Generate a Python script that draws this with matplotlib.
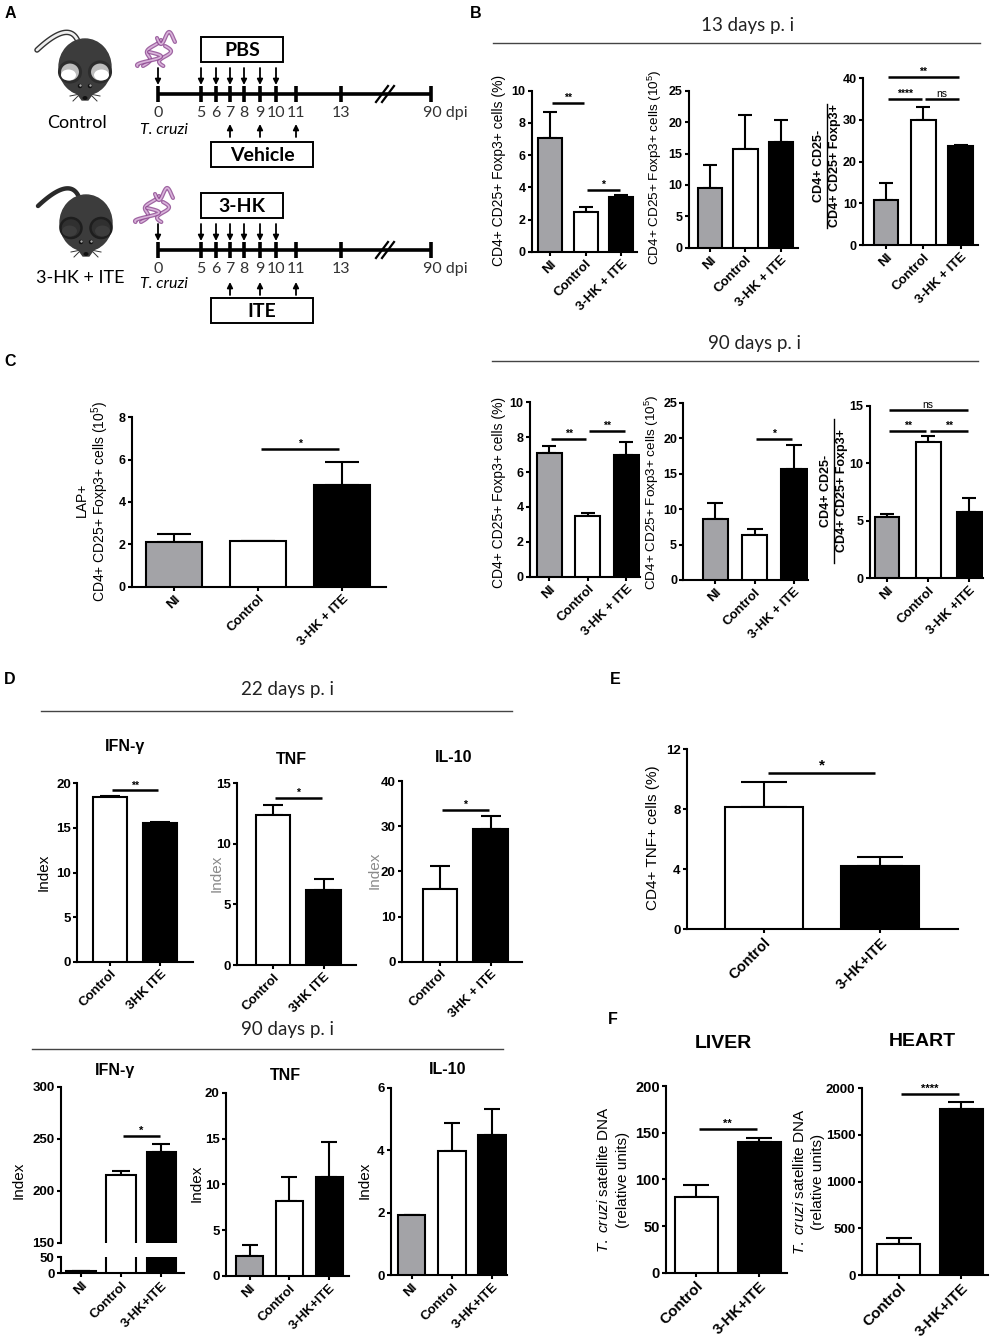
import numpy as np
import matplotlib
matplotlib.use('Agg')
import matplotlib.pyplot as plt
from matplotlib.patches import Ellipse, Rectangle, Polygon
from matplotlib.lines import Line2D

plt.rcParams['font.family'] = ['Liberation Sans', 'DejaVu Sans']
plt.rcParams['mathtext.fontset'] = 'custom'
plt.rcParams['mathtext.rm'] = 'Liberation Sans'
plt.rcParams['mathtext.it'] = 'Liberation Sans:italic'
plt.rcParams['mathtext.bf'] = 'Liberation Sans:bold'

# ---------------- data ----------------
grp_b = ['NI', 'Control', '3-HK + ITE']
grp_b90r = ['NI', 'Control', '3-HK +ITE']
grp_d22 = ['Control', '3HK ITE']
grp_d22b = ['Control', '3HK + ITE']
grp_d90 = ['NI', 'Control', '3-HK+ITE']
grp_ef = ['Control', '3-HK+ITE']

b13_pct = [7.05, 2.45, 3.4]
b13_pct_err = [1.65, 0.3, 0.1]
b13_pct_sig = [(0, 1, 9.25, '**'), (1, 2, 3.83, '*')]
b13_abs = [9.5, 15.7, 16.9]
b13_abs_err = [3.7, 5.4, 3.5]
b13_ratio = [10.8, 30.1, 23.8]
b13_ratio_err = [4.0, 3.1, 0.2]
b13_ratio_sig = [(0, 2, 40.4, '**'), (0, 1, 35.1, '****'), (1, 2, 35.1, 'ns')]

b90_pct = [7.1, 3.5, 6.95]
b90_pct_err = [0.4, 0.17, 0.78]
b90_pct_sig = [(0, 1, 7.88, '**'), (1, 2, 8.36, '**')]
b90_abs = [8.55, 6.35, 15.6]
b90_abs_err = [2.35, 0.8, 3.5]
b90_abs_sig = [(1, 2, 19.9, '*')]
b90_ratio = [5.37, 11.85, 5.8]
b90_ratio_err = [0.2, 0.58, 1.22]
b90_ratio_sig = [(0, 2, 14.65, 'ns'), (0, 1, 12.82, '**'), (1, 2, 12.82, '**')]

c_lap = [2.09, 2.14, 4.79]
c_lap_err = [0.38, 0.0, 1.11]
c_lap_sig = [(1, 2, 6.52, '*')]

d22_ifn = [18.43, 15.6]
d22_ifn_err = [0.17, 0.05]
d22_ifn_sig = [(0, 1, 19.2, '**')]
d22_tnf = [12.39, 6.19]
d22_tnf_err = [0.81, 0.88]
d22_tnf_sig = [(0, 1, 13.76, '*')]
d22_il10 = [16.2, 29.4]
d22_il10_err = [4.9, 2.9]
d22_il10_sig = [(0, 1, 33.6, '*')]

d90_ifn = [6.0, 215.1, 237.5]
d90_ifn_err = [2.5, 3.8, 7.4]
d90_ifn_sig = [(1, 2, 252.6, '*')]
d90_tnf = [2.18, 8.18, 10.84]
d90_tnf_err = [1.2, 2.58, 3.81]
d90_il10 = [1.91, 3.98, 4.48]
d90_il10_err = [0.0, 0.9, 0.83]

e_tnf = [8.16, 4.21]
e_tnf_err = [1.62, 0.58]
e_tnf_sig = [(0, 1, 10.43, '*')]

f_liver = [81.4, 139.5]
f_liver_err = [12.2, 4.5]
f_liver_sig = [(0, 1, 153.9, '**')]
f_heart = [332, 1779]
f_heart_err = [68, 71]
f_heart_sig = [(0, 1, 1939, '****')]

# timeline (schematic panel A)
tl_days = ['0', '5', '6', '7', '8', '9', '10', '11', '13', '90']
inject_down = ['0', '5', '6', '7', '8', '9', '10']
inject_up = ['7', '9', '11']

# ---------------- figure ----------------
W, H = 995, 1339
fig = plt.figure(figsize=(W / 100, H / 100), dpi=100)

GREY = '#a3a3a7'
C3 = [GREY, 'white', 'black']
C2 = ['white', 'black']
LW = 1.5


def rect(L, top, R, bottom):
    return [L / W, 1 - bottom / H, (R - L) / W, (bottom - top) / H]


def ftext(x, y, s, **kw):
    fig.text(x / W, 1 - y / H, s, **kw)


def fline(x1, y1, x2, y2, **kw):
    fig.add_artist(Line2D([x1 / W, x2 / W], [1 - y1 / H, 1 - y2 / H],
                          transform=fig.transFigure, **kw))


def style(ax, yticks, yfs, bottom=True):
    for s in ['top', 'right']:
        ax.spines[s].set_visible(False)
    ax.spines['left'].set_linewidth(LW)
    ax.spines['bottom'].set_linewidth(LW)
    if not bottom:
        ax.spines['bottom'].set_visible(False)
    ax.tick_params(axis='both', direction='out', length=3, width=LW, pad=1.5)
    ax.set_yticks(yticks)
    ax.set_yticklabels([str(int(t)) for t in yticks], fontsize=yfs, fontweight='bold')
    ax.patch.set_alpha(0)


def draw_bars(ax, vals, errs, colors, bw, bar_px):
    x = np.arange(len(vals))
    ax.bar(x, vals, width=bw, color=colors, edgecolor='black', linewidth=LW, zorder=3)
    cap = 0.3 * bar_px * 0.72
    ax.errorbar(x, vals, yerr=[np.zeros(len(vals)), errs], fmt='none', ecolor='black',
                elinewidth=LW, capsize=cap, capthick=LW, zorder=2)


def add_sig(ax, sig, fs):
    for i, j, y, s in sig:
        ax.plot([i + 0.04, j - 0.04], [y, y], color='black', lw=1.8,
                solid_capstyle='butt', clip_on=False, zorder=5)
        fw = 'normal' if s == 'ns' else 'bold'
        ax.text((i + j) / 2, y, s, ha='center', va='bottom', fontsize=fs,
                fontweight=fw, clip_on=False)


def panel(L, R, top, bottom, ylim, yticks, vals, errs, colors, labels, xlim, bw,
          sig=(), yfs=9, xfs=9.5, sfs=7.5):
    ax = fig.add_axes(rect(L, top, R, bottom))
    bar_px = bw * (R - L) / (xlim[1] - xlim[0])
    draw_bars(ax, vals, errs, colors, bw, bar_px)
    ax.set_xlim(*xlim)
    ax.set_ylim(*ylim)
    style(ax, yticks, yfs)
    ax.set_xticks(np.arange(len(vals)))
    ax.set_xticklabels(labels, rotation=45, ha='right', rotation_mode='anchor',
                       fontsize=xfs, fontweight='bold')
    add_sig(ax, sig, sfs)
    return ax


def ylab(x, y, s, fs=10.5, color='black', fw='normal'):
    ftext(x, y, s, rotation=90, ha='center', va='center', fontsize=fs, color=color,
          fontweight=fw)


def ratio_label(xn, xl, xd, yc, half):
    ylab(xn, yc, 'CD4+ CD25-', fs=9, fw='bold')
    ylab(xd, yc, 'CD4+ CD25+ Foxp3+', fs=9, fw='bold')
    fline(xl, yc - half, xl, yc + half, color='black', lw=1.0)


# ---------------- panel A (schematic) ----------------
axA = fig.add_axes([0, 1 - 330 / H, 480 / W, 330 / H])
axA.set_xlim(0, 480)
axA.set_ylim(330, 0)
axA.axis('off')
tl_x = dict(zip(tl_days, [158, 201, 216, 230, 244, 260, 276, 296, 341, 431]))


def mouse(cx, cy, light):
    body = '#3c3c3c'
    t = np.linspace(0, 1, 40)
    p0 = np.array([cx - 6, cy - 26])
    p1 = np.array([cx - 14, cy - 52])
    p2 = np.array([cx - 48, cy - 20])
    pts = ((1 - t) ** 2)[:, None] * p0 + (2 * (1 - t) * t)[:, None] * p1 + (t ** 2)[:, None] * p2
    if light:
        axA.plot(pts[:, 0], pts[:, 1], color='#333333', lw=4.0, solid_capstyle='round')
        axA.plot(pts[:, 0], pts[:, 1], color='#eeeeee', lw=2.0, solid_capstyle='round')
    else:
        axA.plot(pts[:, 0], pts[:, 1], color='#2a2a2a', lw=3.2, solid_capstyle='round')
    axA.add_patch(Ellipse((cx, cy - 3), 52, 56, color=body, zorder=3))
    axA.add_patch(Polygon([[cx - 16, cy + 12], [cx + 16, cy + 12], [cx + 3, cy + 30], [cx - 3, cy + 30]],
                          closed=True, color=body, zorder=3))
    for dx in (-1, 1):
        ex = cx + dx * 15
        if light:
            axA.add_patch(Ellipse((ex, cy + 2), 21, 20, facecolor='#bdbdbd', edgecolor='#2c2c2c', lw=2.2, zorder=4))
            axA.add_patch(Ellipse((ex + dx * 1.5, cy + 5), 15, 11, facecolor='white', edgecolor='none', zorder=4))
        else:
            axA.add_patch(Ellipse((ex, cy + 2), 21, 20, facecolor='#303030', edgecolor='#1e1e1e', lw=1.8, zorder=4))
            axA.add_patch(Ellipse((ex + dx * 1.5, cy + 5), 15, 11, facecolor='#3d3d3d', edgecolor='none', zorder=4))
        axA.add_patch(Ellipse((cx + dx * 5, cy + 16), 3.0, 3.0, color='#111111', zorder=5))
        axA.add_patch(Ellipse((cx + dx * 5 + 0.5, cy + 15.5), 1.0, 1.0, color='#aaaaaa', zorder=6))
    axA.add_patch(Ellipse((cx, cy + 28), 3.5, 2.5, color='#111111', zorder=5))
    for s in (-1, 1):
        for dy, ex in ((-3, 13), (2, 15), (7, 12)):
            axA.plot([cx + s * 5, cx + s * ex], [cy + 24, cy + 24 + dy], color='#333333', lw=0.7, zorder=2)


def parasite(cx, cy):
    t = np.linspace(0, 1, 80)
    curves = [
        (cx - 20 + 14 * t + 4 * np.sin(t * 8), cy + 16 - 26 * t),
        (cx - 6 + 18 * t, cy - 12 + 6 * np.sin(t * 7)),
        (cx + 2 + 6 * np.sin(t * 6), cy - 4 + 20 * t),
        (cx - 14 + 12 * np.sin(t * 5), cy + 2 + 14 * t),
    ]
    for x, y in curves:
        axA.plot(x, y, color='#8e4a92', lw=3.0, solid_capstyle='round', alpha=0.85)
        axA.plot(x, y, color='#d9b3da', lw=1.2, solid_capstyle='round')


def timeline(yl, box_top, box_bot, top_txt, bot_txt, up_y, cruzi_y):
    axA.plot([tl_x['0'], tl_x['90']], [yl, yl], color='black', lw=2.6, solid_capstyle='butt')
    for d in tl_days:
        axA.plot([tl_x[d], tl_x[d]], [yl - 8, yl + 8], color='black', lw=2.6, solid_capstyle='butt')
        if d == '90':
            axA.text(tl_x[d] - 8, yl + 19, '90 dpi', family='Lato', fontsize=11.5, color='#333333',
                     ha='left', va='center')
        else:
            axA.text(tl_x[d], yl + 19, d, family='Lato', fontsize=11.5, color='#333333',
                     ha='center', va='center')
    for dx in (0, 6):
        axA.plot([376 + dx, 388 + dx], [yl + 8, yl - 8], color='black', lw=1.6)
    for d in inject_down:
        axA.annotate('', xy=(tl_x[d], yl - 9), xytext=(tl_x[d], yl - 26),
                     arrowprops=dict(arrowstyle='-|>', lw=1.3, color='black', mutation_scale=8,
                                     shrinkA=0, shrinkB=0))
    for d in inject_up:
        axA.annotate('', xy=(tl_x[d], up_y - 13), xytext=(tl_x[d], up_y),
                     arrowprops=dict(arrowstyle='-|>', lw=1.3, color='black', mutation_scale=8,
                                     shrinkA=0, shrinkB=0))
    axA.add_patch(Rectangle((201, box_top[0]), 82, box_top[1] - box_top[0], facecolor='white',
                            edgecolor='black', lw=1.4))
    axA.text(242, (box_top[0] + box_top[1]) / 2 + 1, top_txt, family='Lato', fontweight='bold',
             fontsize=14, ha='center', va='center')
    axA.add_patch(Rectangle((211, box_bot[0]), 102, box_bot[1] - box_bot[0], facecolor='white',
                            edgecolor='black', lw=1.4))
    axA.text(262, (box_bot[0] + box_bot[1]) / 2 + 1, bot_txt, family='Lato', fontweight='bold',
             fontsize=14, ha='center', va='center')
    axA.text(164, cruzi_y, 'T. cruzi', family='Lato', style='italic', fontsize=11.5,
             ha='center', va='center')


mouse(85, 70, True)
mouse(86, 226, False)
parasite(163, 50)
parasite(161, 206)
timeline(94, (37, 62), (142, 167), 'PBS', 'Vehicle', 137, 130)
timeline(250, (193, 218), (298, 323), '3-HK', 'ITE', 295, 284)
axA.text(77, 123, 'Control', family='Lato', fontsize=13, ha='center', va='center')
axA.text(80, 278, '3-HK + ITE', family='Lato', fontsize=13, ha='center', va='center')

# ---------------- panel labels ----------------
for lbl, x, y in [('A', 10, 14), ('B', 476, 14), ('C', 10, 361), ('D', 10, 680),
                  ('E', 615, 680), ('F', 613, 1020)]:
    ftext(x, y, lbl, fontsize=11.5, fontweight='bold', ha='center', va='center')

# section headers
for txt, x, y, x1, x2, yl in [('13 days p. i', 748, 25, 493, 980, 43),
                              ('90 days p. i', 755, 343, 492, 978, 361),
                              ('22 days p. i', 288, 690, 41, 512, 711),
                              ('90 days p. i', 288, 1030, 32, 503, 1049)]:
    ftext(x, y, txt, family='Lato', fontsize=13.5, ha='center', va='center', color='#222222')
    fline(x1, yl, x2, yl, color='#444444', lw=1.0)

# ---------------- panel B (13 d) ----------------
panel(532, 637, 90.7, 251.7, (0, 10), [0, 2, 4, 6, 8, 10], b13_pct, b13_pct_err, C3, grp_b,
      (-0.51, 2.45), 0.68, b13_pct_sig)
ylab(499, 170, 'CD4+ CD25+ Foxp3+ cells (%)', fs=10)
panel(689, 798, 90.7, 247.7, (0, 25), [0, 5, 10, 15, 20, 25], b13_abs, b13_abs_err, C3, grp_b,
      (-0.59, 2.48), 0.68)
ylab(655, 167, 'CD4+ CD25+ Foxp3+ cells (10$^{5}$)', fs=9.7)
panel(863, 978, 78.3, 245, (0, 40), [0, 10, 20, 30, 40], b13_ratio, b13_ratio_err, C3, grp_b,
      (-0.62, 2.47), 0.66, b13_ratio_sig)
ratio_label(819, 827, 835, 166, 62)

# ---------------- panel B (90 d) ----------------
panel(530, 640, 402.3, 576.7, (0, 10), [0, 2, 4, 6, 8, 10], b90_pct, b90_pct_err, C3, grp_b,
      (-0.506, 2.36), 0.65, b90_pct_sig)
ylab(499, 492, 'CD4+ CD25+ Foxp3+ cells (%)', fs=10)
panel(683.3, 808, 402.7, 580, (0, 25), [0, 5, 10, 15, 20, 25], b90_abs, b90_abs_err, C3, grp_b,
      (-0.82, 2.36), 0.65, b90_abs_sig)
ylab(652, 492, 'CD4+ CD25+ Foxp3+ cells (10$^{5}$)', fs=9.7)
panel(870, 983, 406, 578.3, (0, 15), [0, 5, 10, 15], b90_ratio, b90_ratio_err, C3, grp_b90r,
      (-0.41, 2.33), 0.6, b90_ratio_sig)
ratio_label(826, 834, 842, 491, 72)

# ---------------- panel C ----------------
panel(131.7, 386, 417.3, 586.7, (0, 8), [0, 2, 4, 6, 8], c_lap, c_lap_err, C3, grp_b,
      (-0.5, 2.52), 0.665, c_lap_sig)
ylab(81.7, 500, 'LAP+', fs=10)
ylab(100, 501, 'CD4+ CD25+ Foxp3+ cells (10$^{5}$)', fs=10)

# ---------------- panel D (22 d) ----------------
panel(77.3, 193, 783.3, 961.7, (0, 20), [0, 5, 10, 15, 20], d22_ifn, d22_ifn_err, C2, grp_d22,
      (-0.66, 1.65), 0.68, d22_ifn_sig, yfs=9.5, xfs=9.5)
ylab(43.3, 872, 'Index', fs=11)
ftext(125, 747, 'IFN-γ', fontsize=11.5, fontweight='bold', ha='center', va='center')
panel(236.7, 356, 783.3, 965, (0, 15), [0, 5, 10, 15], d22_tnf, d22_tnf_err, C2, grp_d22,
      (-0.72, 1.64), 0.68, d22_tnf_sig, yfs=9.5, xfs=9.5)
ylab(216.7, 873, 'Index', fs=11, color='#8a8a8a')
ftext(291, 760, 'TNF', fontsize=11.5, fontweight='bold', ha='center', va='center')
panel(401.7, 522, 781, 961.7, (0, 40), [0, 10, 20, 30, 40], d22_il10, d22_il10_err, C2, grp_d22b,
      (-0.76, 1.62), 0.68, d22_il10_sig, yfs=9.5, xfs=9.5)
ylab(375, 870, 'Index', fs=11, color='#8a8a8a')
ftext(454, 757, 'IL-10', fontsize=11.5, fontweight='bold', ha='center', va='center')

# ---------------- panel D (90 d) ----------------
xl4 = (-0.5, 2.56)
bw4 = 0.73
bar_px4 = bw4 * (184 - 60.7) / (xl4[1] - xl4[0])
axu = fig.add_axes(rect(60.7, 1086.7, 184, 1242.7))
draw_bars(axu, d90_ifn, d90_ifn_err, C3, bw4, bar_px4)
axu.set_xlim(*xl4)
axu.set_ylim(150, 300)
style(axu, [150, 200, 250, 300], 9.5, bottom=False)
axu.set_xticks([])
add_sig(axu, d90_ifn_sig, 8)
axl = fig.add_axes(rect(60.7, 1257.3, 184, 1273.3))
draw_bars(axl, d90_ifn, d90_ifn_err, C3, bw4, bar_px4)
axl.set_xlim(*xl4)
axl.set_ylim(0, 50)
style(axl, [0, 50], 9.5)
axl.set_xticks(np.arange(len(d90_ifn)))
axl.set_xticklabels(grp_d90, rotation=45, ha='right', rotation_mode='anchor', fontsize=9.5,
                    fontweight='bold')
ylab(19, 1180, 'Index', fs=11)
ftext(115, 1070, 'IFN-γ', fontsize=11.5, fontweight='bold', ha='center', va='center')

panel(226, 349, 1092.7, 1276, (0, 20), [0, 5, 10, 15, 20], d90_tnf, d90_tnf_err, C3, grp_d90,
      (-0.59, 2.49), 0.68, yfs=9.5, xfs=9.5)
ylab(196.7, 1183, 'Index', fs=11)
ftext(285, 1075, 'TNF', fontsize=11.5, fontweight='bold', ha='center', va='center')
panel(390.7, 507, 1087.7, 1275, (0, 6), [0, 2, 4, 6], d90_il10, d90_il10_err, C3, grp_d90,
      (-0.52, 2.37), 0.68, yfs=9.5, xfs=9.5)
ylab(365, 1180, 'Index', fs=11)
ftext(448, 1070, 'IL-10', fontsize=11.5, fontweight='bold', ha='center', va='center')

# ---------------- panel E ----------------
panel(686.7, 958, 749, 929.3, (0, 12), [0, 4, 8, 12], e_tnf, e_tnf_err, C2, grp_ef,
      (-0.66, 1.67), 0.67, e_tnf_sig, yfs=9.5, xfs=10.5, sfs=11)
ylab(653.3, 838, 'CD4+ TNF+ cells (%)', fs=11)

# ---------------- panel F ----------------
panel(666, 787, 1086, 1272.7, (0, 200), [0, 50, 100, 150, 200], f_liver, f_liver_err, C2, grp_ef,
      (-0.48, 1.44), 0.68, f_liver_sig, yfs=10.5, xfs=11, sfs=8)
ylab(604, 1180, '$\\it{T.\\ cruzi}$ satellite DNA', fs=11)
ylab(623.3, 1180, '(relative units)', fs=11)
ftext(723, 1044, 'LIVER', fontsize=14, fontweight='bold', ha='center', va='center')
panel(861.7, 988, 1088.3, 1275, (0, 2000), [0, 500, 1000, 1500, 2000], f_heart, f_heart_err, C2,
      grp_ef, (-0.59, 1.43), 0.69, f_heart_sig, yfs=9.5, xfs=11, sfs=8)
ylab(799.3, 1182, '$\\it{T.\\ cruzi}$ satellite DNA', fs=11)
ylab(818, 1182, '(relative units)', fs=11)
ftext(922, 1041, 'HEART', fontsize=14, fontweight='bold', ha='center', va='center')

fig.savefig('out.png', dpi=100)
